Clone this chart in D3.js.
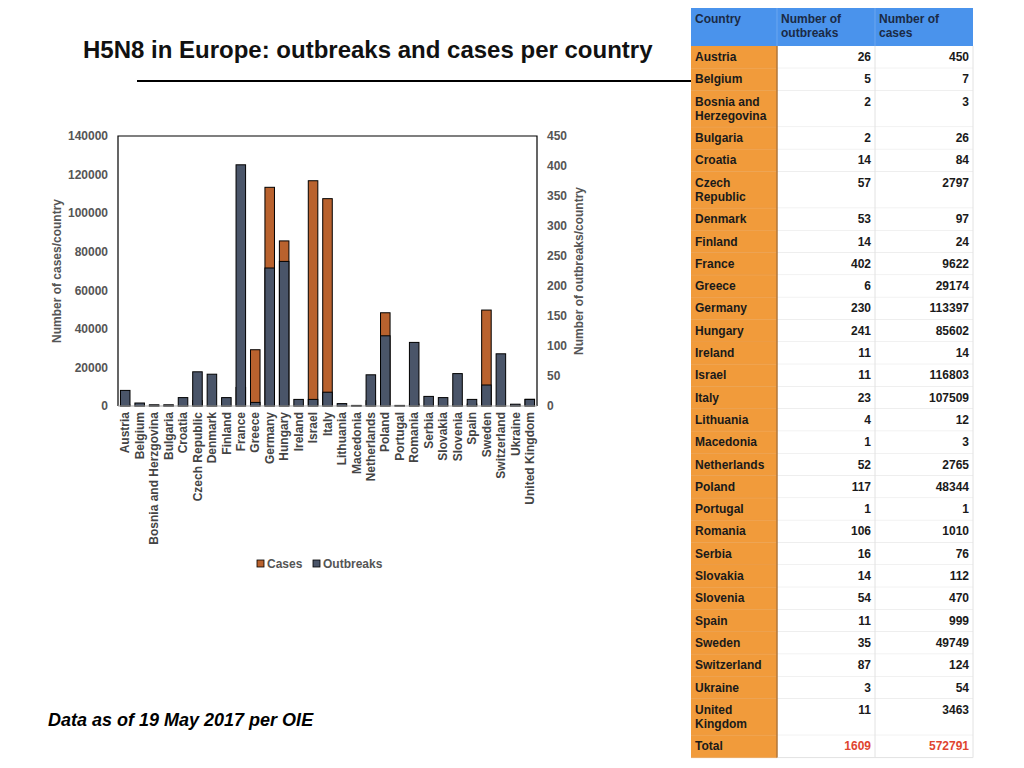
<!DOCTYPE html>
<html>
<head>
<meta charset="utf-8">
<script src="https://cdn.jsdelivr.net/npm/d3@7"></script>
<style>
  body { margin: 0; background: #fff; }
  svg { font-family: "Liberation Sans", Arial, sans-serif; }
</style>
</head>
<body>
<div id="chart"></div>
<script>
// Data (from the OIE table, 19 May 2017)
var countries = ["Austria", "Belgium", "Bosnia and Herzegovina", "Bulgaria", "Croatia",
  "Czech Republic", "Denmark", "Finland", "France", "Greece", "Germany", "Hungary",
  "Ireland", "Israel", "Italy", "Lithuania", "Macedonia", "Netherlands", "Poland",
  "Portugal", "Romania", "Serbia", "Slovakia", "Slovenia", "Spain", "Sweden",
  "Switzerland", "Ukraine", "United Kingdom"];
// chart axis spells one name differently
var chartLabels = countries.map(function (c) {
  return c === "Bosnia and Herzegovina" ? "Bosnia and Herzgovina" : c;
});
var outbreaks = [26, 5, 2, 2, 14, 57, 53, 14, 402, 6, 230, 241, 11, 11, 23, 4, 1, 52,
  117, 1, 106, 16, 14, 54, 11, 35, 87, 3, 11];
var cases = [450, 7, 3, 26, 84, 2797, 97, 24, 9622, 29174, 113397, 85602, 14, 116803,
  107509, 12, 3, 2765, 48344, 1, 1010, 76, 112, 470, 999, 49749, 124, 54, 3463];
var totalOutbreaks = 1609;
var totalCases = 572791;
var casesTicks = [0, 20000, 40000, 60000, 80000, 100000, 120000, 140000];
var outbreakTicks = [0, 50, 100, 150, 200, 250, 300, 350, 400, 450];

var w = 1024, h = 768;
var caseColor = "#b9622e", outbreakColor = "#4a5569";

var svg = d3.select("#chart").append("svg")
  .attr("width", w).attr("height", h);

// Title and rule
svg.append("text")
  .attr("x", 83).attr("y", 58)
  .attr("font-size", 24).attr("font-weight", "bold").attr("fill", "#111")
  .text("H5N8 in Europe: outbreaks and cases per country");
svg.append("line")
  .attr("x1", 137).attr("x2", 691).attr("y1", 81).attr("y2", 81)
  .attr("stroke", "#000").attr("stroke-width", 2);

// Chart area
var plotLeft = 118, plotRight = 537, plotTop = 136, plotBottom = 406;

var xScale = d3.scaleBand()
  .domain(d3.range(countries.length))
  .range([plotLeft, plotRight])
  .paddingInner(0.34).paddingOuter(0.17);
var yCases = d3.scaleLinear().domain([0, 140000]).range([plotBottom, plotTop]);
var yOut = d3.scaleLinear().domain([0, 450]).range([plotBottom, plotTop]);

// frame
svg.append("path")
  .attr("d", "M" + plotLeft + "," + plotBottom + "V" + plotTop + "H" + plotRight + "V" + plotBottom)
  .attr("fill", "none").attr("stroke", "#000").attr("stroke-width", 1.2);

// cases bars (behind, left axis)
svg.selectAll(".case-bar").data(cases).enter().append("rect")
  .attr("class", "case-bar")
  .attr("x", function (d, i) { return xScale(i); })
  .attr("y", function (d) { return yCases(d); })
  .attr("width", xScale.bandwidth())
  .attr("height", function (d) { return plotBottom - yCases(d); })
  .attr("fill", caseColor).attr("stroke", "#000").attr("stroke-width", 1);

// outbreak bars (front, right axis)
svg.selectAll(".out-bar").data(outbreaks).enter().append("rect")
  .attr("class", "out-bar")
  .attr("x", function (d, i) { return xScale(i); })
  .attr("y", function (d) { return yOut(d); })
  .attr("width", xScale.bandwidth())
  .attr("height", function (d) { return plotBottom - yOut(d); })
  .attr("fill", outbreakColor).attr("stroke", "#000").attr("stroke-width", 1);

// baseline
svg.append("line")
  .attr("x1", plotLeft).attr("x2", plotRight).attr("y1", plotBottom).attr("y2", plotBottom)
  .attr("stroke", "#aaa").attr("stroke-width", 1);

// left axis
var leftAxis = svg.append("g")
  .attr("transform", "translate(" + plotLeft + ",0)")
  .call(d3.axisLeft(yCases).tickValues(casesTicks).tickSize(0).tickPadding(10)
    .tickFormat(d3.format("d")));
leftAxis.select(".domain").remove();
leftAxis.selectAll("text")
  .attr("font-size", 12).attr("font-weight", "bold").attr("fill", "#555")
  .attr("font-family", "Liberation Sans, Arial, sans-serif");

// right axis
var rightAxis = svg.append("g")
  .attr("transform", "translate(" + plotRight + ",0)")
  .call(d3.axisRight(yOut).tickValues(outbreakTicks).tickSize(0).tickPadding(10));
rightAxis.select(".domain").remove();
rightAxis.selectAll("text")
  .attr("font-size", 12).attr("font-weight", "bold").attr("fill", "#555")
  .attr("font-family", "Liberation Sans, Arial, sans-serif");

// x labels
var xAxis = svg.append("g")
  .attr("transform", "translate(0," + plotBottom + ")")
  .call(d3.axisBottom(xScale).tickSize(0).tickFormat(function (i) { return chartLabels[i]; }));
xAxis.select(".domain").remove();
xAxis.selectAll("text")
  .attr("font-size", 12).attr("font-weight", "bold").attr("fill", "#444")
  .attr("font-family", "Liberation Sans, Arial, sans-serif")
  .attr("text-anchor", "end")
  .attr("transform", "rotate(-90)")
  .attr("x", -6).attr("y", 0).attr("dy", "0.35em");

// axis titles
svg.append("text")
  .attr("transform", "translate(61," + ((plotTop + plotBottom) / 2) + ") rotate(-90)")
  .attr("text-anchor", "middle")
  .attr("font-size", 12).attr("font-weight", "bold").attr("fill", "#555")
  .text("Number of cases/country");
svg.append("text")
  .attr("transform", "translate(583," + ((plotTop + plotBottom) / 2) + ") rotate(-90)")
  .attr("text-anchor", "middle")
  .attr("font-size", 12).attr("font-weight", "bold").attr("fill", "#555")
  .text("Number of outbreaks/country");

// legend
var legendItems = [{ name: "Cases", color: caseColor, x: 257 }, { name: "Outbreaks", color: outbreakColor, x: 313 }];
var legend = svg.selectAll(".legend").data(legendItems).enter().append("g")
  .attr("transform", function (d) { return "translate(" + d.x + ",564)"; });
legend.append("rect")
  .attr("x", 0).attr("y", -4).attr("width", 7).attr("height", 7)
  .attr("fill", function (d) { return d.color; })
  .attr("stroke", "#000").attr("stroke-width", 0.8);
legend.append("text")
  .attr("x", 10).attr("y", 0).attr("dy", "0.35em")
  .attr("font-size", 12).attr("font-weight", "bold").attr("fill", "#555")
  .text(function (d) { return d.name; });

// footer
svg.append("text")
  .attr("x", 48).attr("y", 726)
  .attr("font-size", 18).attr("font-weight", "bold").attr("font-style", "italic")
  .attr("fill", "#000")
  .text("Data as of 19 May 2017 per OIE");

// Table
var tx = 691, c1 = 777, c2 = 875, c3 = 973;
var headTop = 8, headBottom = 46;
var rowH1 = 22.3, rowH2 = 36.5;
var rows = countries.map(function (c, i) {
  return { name: c, o: outbreaks[i], c: cases[i], total: false };
});
rows.push({ name: "Total", o: totalOutbreaks, c: totalCases, total: true });

function splitName(name) {
  if (name === "Bosnia and Herzegovina") return ["Bosnia and", "Herzegovina"];
  if (name === "Czech Republic") return ["Czech", "Republic"];
  if (name === "United Kingdom") return ["United", "Kingdom"];
  return [name];
}

var table = svg.append("g");
// header
table.append("rect")
  .attr("x", tx).attr("y", headTop).attr("width", c3 - tx).attr("height", headBottom - headTop)
  .attr("fill", "#4a93ec");
[["Country"], ["Number of", "outbreaks"], ["Number of", "cases"]].forEach(function (lines, j) {
  var x = [tx, c1, c2][j] + 4;
  lines.forEach(function (t, k) {
    table.append("text")
      .attr("x", x).attr("y", headTop + 15 + k * 13.5)
      .attr("font-size", 12).attr("font-weight", "bold").attr("fill", "#1b2a45")
      .text(t);
  });
});
[c1, c2].forEach(function (x) {
  table.append("line").attr("x1", x).attr("x2", x).attr("y1", headTop).attr("y2", headBottom)
    .attr("stroke", "#6aa6f0").attr("stroke-width", 1);
});

var y = headBottom;
rows.forEach(function (r) {
  var lines = splitName(r.name);
  var rh = lines.length > 1 ? rowH2 : rowH1;
  table.append("rect")
    .attr("x", tx).attr("y", y).attr("width", c1 - tx).attr("height", rh)
    .attr("fill", "#f19b3b");
  table.append("rect")
    .attr("x", c1).attr("y", y).attr("width", c3 - c1).attr("height", rh)
    .attr("fill", "#fff");
  table.append("line")
    .attr("x1", c1).attr("x2", c3).attr("y1", y + rh).attr("y2", y + rh)
    .attr("stroke", "#e2e2e2").attr("stroke-width", 1);
  table.append("line")
    .attr("x1", tx).attr("x2", c1).attr("y1", y + rh).attr("y2", y + rh)
    .attr("stroke", "#e7a055").attr("stroke-width", 0.8);
  lines.forEach(function (t, k) {
    table.append("text")
      .attr("x", tx + 4).attr("y", y + 15 + k * 14)
      .attr("font-size", 12).attr("font-weight", "bold").attr("fill", "#1a1a1a")
      .text(t);
  });
  table.append("text")
    .attr("x", c2 - 4).attr("y", y + 15).attr("text-anchor", "end")
    .attr("font-size", 12).attr("font-weight", "bold")
    .attr("fill", r.total ? "#e0452f" : "#1a1a1a")
    .text(r.o);
  table.append("text")
    .attr("x", c3 - 4).attr("y", y + 15).attr("text-anchor", "end")
    .attr("font-size", 12).attr("font-weight", "bold")
    .attr("fill", r.total ? "#e0452f" : "#1a1a1a")
    .text(r.c);
  y += rh;
});
// column separators
table.append("line").attr("x1", c1).attr("x2", c1).attr("y1", headBottom).attr("y2", y)
  .attr("stroke", "#b0763a").attr("stroke-width", 1.5);
table.append("line").attr("x1", c2).attr("x2", c2).attr("y1", headBottom).attr("y2", y)
  .attr("stroke", "#e2e2e2").attr("stroke-width", 1);
table.append("line").attr("x1", c3).attr("x2", c3).attr("y1", headBottom).attr("y2", y)
  .attr("stroke", "#e2e2e2").attr("stroke-width", 1);
</script>
</body>
</html>
